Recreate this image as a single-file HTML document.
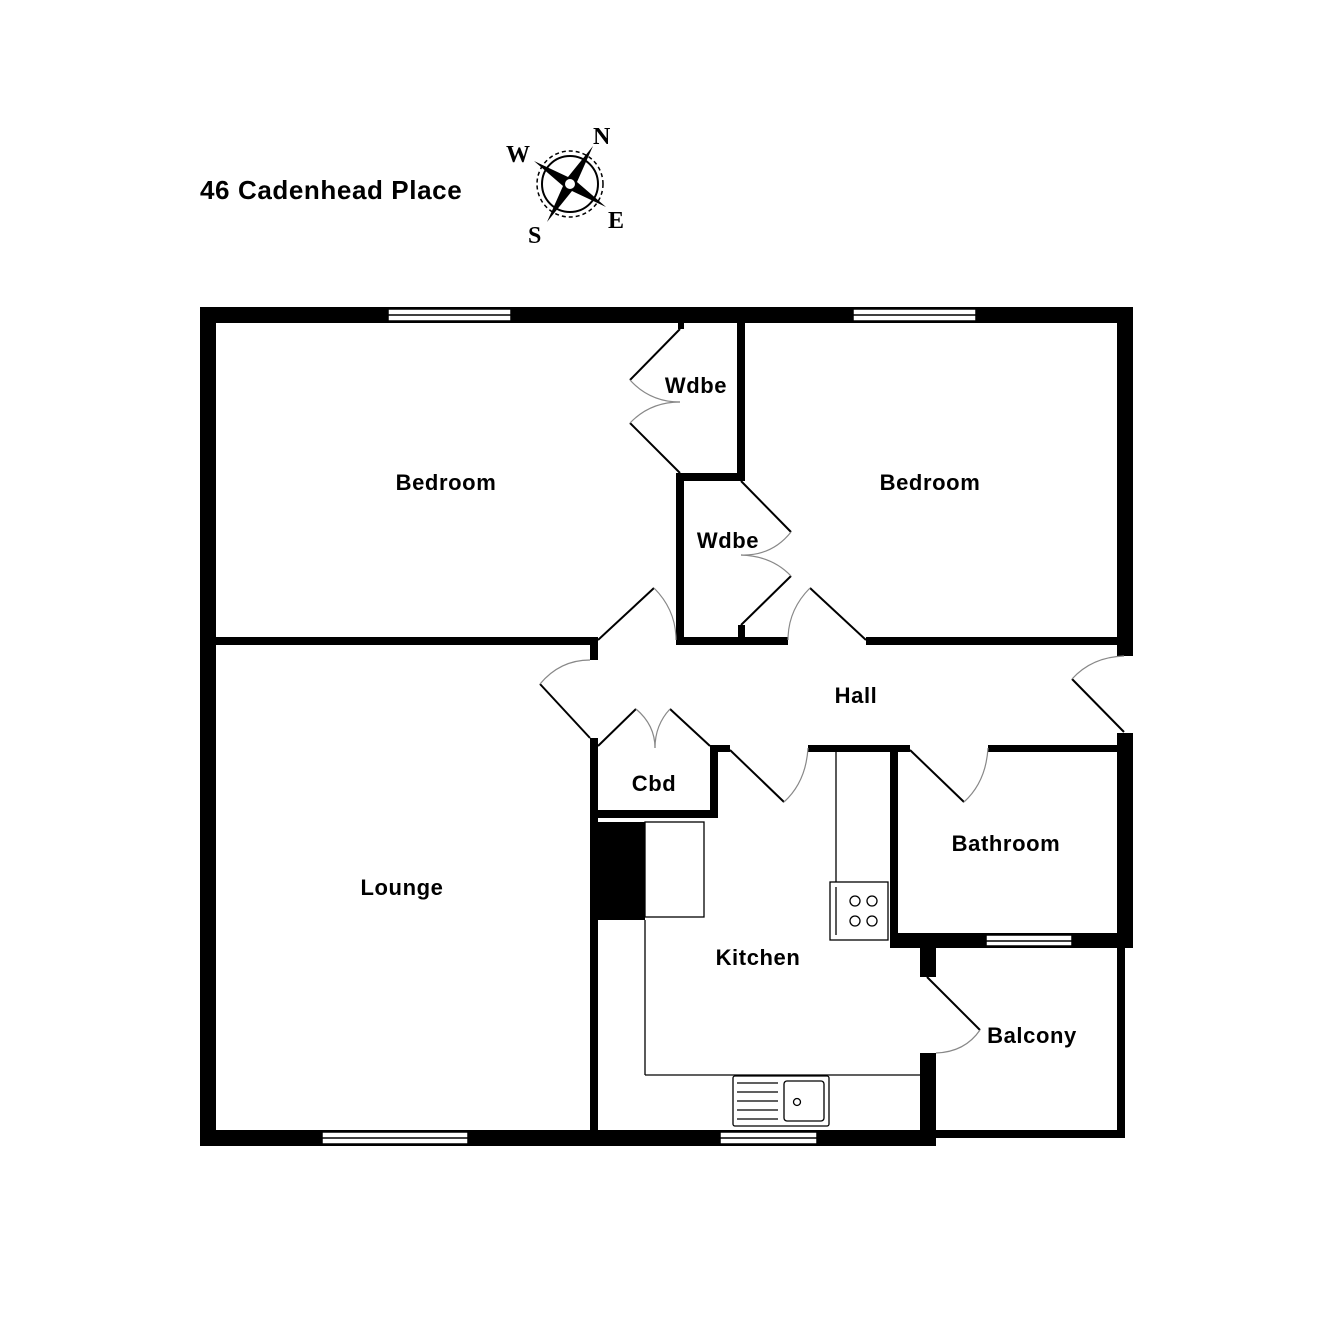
<!DOCTYPE html>
<html><head><style>
html,body{margin:0;padding:0;background:#fff;}
svg{display:block;}
text{font-family:"Liberation Sans",sans-serif;font-weight:bold;}
</style></head><body>
<svg width="1320" height="1334" viewBox="0 0 1320 1334" xmlns="http://www.w3.org/2000/svg">
<rect width="1320" height="1334" fill="#fff"/>
<text x="200" y="199" font-size="26" letter-spacing="0.6">46 Cadenhead Place</text>
<!-- compass -->
<g>
<circle cx="570" cy="184" r="33" fill="none" stroke="#000" stroke-width="1.5" stroke-dasharray="4,3"/>
<circle cx="570" cy="184" r="28" fill="none" stroke="#000" stroke-width="2"/>
<polygon points="593,146 577,182 606,207 572,191 547,222 563,186 534,161 568,177" fill="#000"/>
<circle cx="570" cy="184" r="5" fill="#fff"/>
<text x="593" y="144" font-size="24" style="font-family:'Liberation Serif',serif">N</text>
<text x="506" y="162" font-size="24" style="font-family:'Liberation Serif',serif">W</text>
<text x="608" y="228" font-size="24" style="font-family:'Liberation Serif',serif">E</text>
<text x="528" y="243" font-size="24" style="font-family:'Liberation Serif',serif">S</text>
</g>
<g fill="#000">
<rect x="200" y="307" width="933" height="16"/>
<rect x="200" y="307" width="16" height="839"/>
<rect x="200" y="1130" width="736" height="16"/>
<rect x="1117" y="307" width="16" height="349"/>
<rect x="1117" y="733" width="16" height="215"/>
<rect x="890" y="933" width="243" height="15"/>
<rect x="1117" y="948" width="8" height="190"/>
<rect x="936" y="1130" width="189" height="8"/>
<rect x="920" y="940" width="16" height="37"/>
<rect x="920" y="1053" width="16" height="93"/>
<rect x="216" y="637" width="382" height="8"/>
<rect x="590" y="645" width="8" height="15"/>
<rect x="676" y="473" width="8" height="172"/>
<rect x="676" y="637" width="112" height="8"/>
<rect x="738" y="625" width="7" height="12"/>
<rect x="866" y="637" width="251" height="8"/>
<rect x="737" y="323" width="8" height="158"/>
<rect x="676" y="473" width="69" height="8"/>
<rect x="678" y="323" width="6" height="6"/>
<rect x="590" y="738" width="8" height="392"/>
<rect x="590" y="810" width="128" height="8"/>
<rect x="710" y="745" width="8" height="73"/>
<rect x="710" y="745" width="20" height="7"/>
<rect x="808" y="745" width="102" height="7"/>
<rect x="890" y="745" width="8" height="195"/>
<rect x="988" y="745" width="129" height="7"/>
<rect x="598" y="822" width="47" height="98"/>
</g>
<g fill="#fff" stroke="#000" stroke-width="1.5">
<rect x="388" y="309" width="123" height="12"/>
<rect x="853" y="309" width="123" height="12"/>
<rect x="322" y="1132" width="146" height="12"/>
<rect x="720" y="1132" width="97" height="12"/>
<rect x="986" y="935" width="86" height="11"/>
</g>
<g stroke="#000" stroke-width="1.5">
<line x1="388" y1="315" x2="511" y2="315"/>
<line x1="853" y1="315" x2="976" y2="315"/>
<line x1="322" y1="1138" x2="468" y2="1138"/>
<line x1="720" y1="1138" x2="817" y2="1138"/>
<line x1="986" y1="941" x2="1072" y2="941"/>
</g>
<g stroke="#000" stroke-width="2" fill="none">
<line x1="680" y1="329" x2="630" y2="380"/>
<line x1="680" y1="473" x2="630" y2="423"/>
<line x1="741" y1="481" x2="791" y2="532"/>
<line x1="741" y1="625" x2="791" y2="576"/>
<line x1="598" y1="640" x2="654" y2="588"/>
<line x1="866" y1="640" x2="810" y2="588"/>
<line x1="590" y1="738" x2="540" y2="684"/>
<line x1="598" y1="746" x2="636" y2="709"/>
<line x1="710" y1="746" x2="670" y2="709"/>
<line x1="730" y1="750" x2="784" y2="802"/>
<line x1="910" y1="750" x2="964" y2="802"/>
<line x1="1124" y1="732" x2="1072" y2="679"/>
<line x1="927" y1="977" x2="980" y2="1030"/>
</g>
<g stroke="#888" stroke-width="1.2" fill="none">
<path d="M630,380 Q650,402 680,402"/>
<path d="M630,423 Q650,402 680,402"/>
<path d="M791,532 Q772,556 741,555"/>
<path d="M791,576 Q772,556 741,555"/>
<path d="M654,588 Q676,610 676,640"/>
<path d="M810,588 Q788,610 788,640"/>
<path d="M540,684 Q560,660 590,660"/>
<path d="M636,709 Q655,725 655,748"/>
<path d="M670,709 Q655,725 655,748"/>
<path d="M784,802 Q806,782 808,748"/>
<path d="M964,802 Q986,782 988,748"/>
<path d="M1072,679 Q1092,657 1124,656"/>
<path d="M980,1030 Q965,1052 936,1053"/>
</g>
<g stroke="#000" stroke-width="1.3" fill="none">
<rect x="645" y="822" width="59" height="95"/>
<line x1="645" y1="920" x2="645" y2="1075"/>
<line x1="645" y1="1075" x2="920" y2="1075"/>
<line x1="836" y1="752" x2="836" y2="882"/>
<rect x="830" y="882" width="58" height="58"/>
<line x1="836" y1="887" x2="836" y2="935"/>
<circle cx="855" cy="901" r="5"/><circle cx="872" cy="901" r="5"/>
<circle cx="855" cy="921" r="5"/><circle cx="872" cy="921" r="5"/>
<rect x="733" y="1076" width="96" height="50" rx="2"/>
<rect x="784" y="1081" width="40" height="40" rx="3"/>
<circle cx="797" cy="1102" r="3.5"/>
<line x1="737" y1="1083" x2="778" y2="1083"/>
<line x1="737" y1="1092" x2="778" y2="1092"/>
<line x1="737" y1="1101" x2="778" y2="1101"/>
<line x1="737" y1="1110" x2="778" y2="1110"/>
<line x1="737" y1="1119" x2="778" y2="1119"/>
</g>
<g font-size="22" text-anchor="middle" letter-spacing="0.6">
<text x="446" y="490">Bedroom</text>
<text x="930" y="490">Bedroom</text>
<text x="696" y="393">Wdbe</text>
<text x="728" y="548">Wdbe</text>
<text x="856" y="703">Hall</text>
<text x="654" y="791">Cbd</text>
<text x="402" y="895">Lounge</text>
<text x="1006" y="851">Bathroom</text>
<text x="758" y="965">Kitchen</text>
<text x="1032" y="1043">Balcony</text>
</g>
</svg>
</body></html>
